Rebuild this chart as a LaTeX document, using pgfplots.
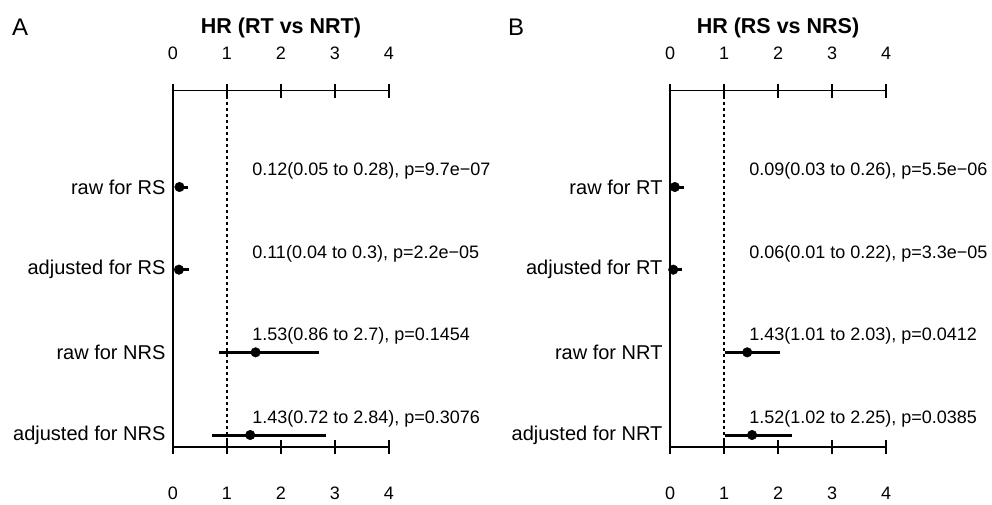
\documentclass[border=0pt]{standalone}
\usepackage{fontspec}
\setmainfont{Liberation Sans}
\usepackage{pgfplots}
\pgfplotsset{compat=1.18}

\newcommand\labsz{\fontsize{20}{22}\selectfont}
\newcommand\txtsz{\fontsize{18}{20}\selectfont}
\newcommand\ttlsz{\fontsize{21.5}{24}\selectfont\bfseries}

\pgfplotsset{
  forest/.style={
    scale only axis, width=216pt, height=356.3pt,
    xmin=0, xmax=4, ymin=0.855, ymax=5.165,
    clip=false,
    tick align=outside, major tick length=14pt,
    tick style={black, line width=1.1pt},
    /pgf/number format/assume math mode=true,
    xtick={0,1,2,3,4},
    ticklabel style={font=\txtsz},
    xticklabel style={text height=13pt, text depth=0pt},
  },
  noarrow/.style={
    axis line style={-, line width=1.1pt},
    every outer x axis line/.append style={-},
    every outer y axis line/.append style={-},
    every inner x axis line/.append style={-},
    every inner y axis line/.append style={-},
  },
  bot/.style={forest, axis x line=bottom, axis y line=left, noarrow,
    ytick={1,2,3,4}, ytick style={draw=none},
    xticklabel style={yshift=-29pt},
    yticklabel style={font=\labsz, xshift=3pt}},
  top/.style={forest, axis x line=top, axis y line=none, noarrow, ytick=\empty,
    xticklabel style={yshift=21pt}},
  ci/.style={only marks, mark=*, mark size=4.8pt, black,
    error bars/.cd, x dir=both, x explicit, error mark=none,
    error bar style={line width=3pt}},
}
\tikzset{ann/.style={anchor=base west, inner sep=0pt, font=\txtsz, yshift=11.5pt}}

\begin{document}
\begin{tikzpicture}
\useasboundingbox (0,0) rectangle (992pt,505pt);

% panel A
\node[anchor=west, inner sep=0pt, font=\fontsize{24}{26}\selectfont] at (12pt,478pt) {A};
\node[inner sep=0pt, font=\ttlsz] at (281pt,477pt) {HR (RT vs NRT)};
\begin{axis}[top, at={(173pt,58pt)}]
\end{axis}
\begin{axis}[bot, at={(173pt,58pt)},
  yticklabels={adjusted for NRS, raw for NRS, adjusted for RS, raw for RS}]
\addplot[dashed, line width=1.1pt] coordinates {(1,0.855) (1,5.165)};
\addplot[ci] table[x=hr, y=row,
  x error plus expr=\thisrow{hi}-\thisrow{hr},
  x error minus expr=\thisrow{hr}-\thisrow{lo}] {
row hr   lo   hi
4   0.12 0.05 0.28
3   0.11 0.04 0.30
2   1.53 0.86 2.70
1   1.43 0.72 2.84
};
\node[ann] at (axis cs:1.465,4) {0.12(0.05 to 0.28), p=9.7e−07};
\node[ann] at (axis cs:1.465,3) {0.11(0.04 to 0.3), p=2.2e−05};
\node[ann] at (axis cs:1.465,2) {1.53(0.86 to 2.7), p=0.1454};
\node[ann] at (axis cs:1.465,1) {1.43(0.72 to 2.84), p=0.3076};
\end{axis}

% panel B
\node[anchor=west, inner sep=0pt, font=\fontsize{24}{26}\selectfont] at (508pt,478pt) {B};
\node[inner sep=0pt, font=\ttlsz] at (778pt,477pt) {HR (RS vs NRS)};
\begin{axis}[top, at={(670pt,58pt)}]
\end{axis}
\begin{axis}[bot, at={(670pt,58pt)},
  yticklabels={adjusted for NRT, raw for NRT, adjusted for RT, raw for RT}]
\addplot[dashed, line width=1.1pt] coordinates {(1,0.855) (1,5.165)};
\addplot[ci] table[x=hr, y=row,
  x error plus expr=\thisrow{hi}-\thisrow{hr},
  x error minus expr=\thisrow{hr}-\thisrow{lo}] {
row hr   lo   hi
4   0.09 0.03 0.26
3   0.06 0.01 0.22
2   1.43 1.01 2.03
1   1.52 1.02 2.25
};
\node[ann] at (axis cs:1.465,4) {0.09(0.03 to 0.26), p=5.5e−06};
\node[ann] at (axis cs:1.465,3) {0.06(0.01 to 0.22), p=3.3e−05};
\node[ann] at (axis cs:1.465,2) {1.43(1.01 to 2.03), p=0.0412};
\node[ann] at (axis cs:1.465,1) {1.52(1.02 to 2.25), p=0.0385};
\end{axis}
\end{tikzpicture}
\end{document}
